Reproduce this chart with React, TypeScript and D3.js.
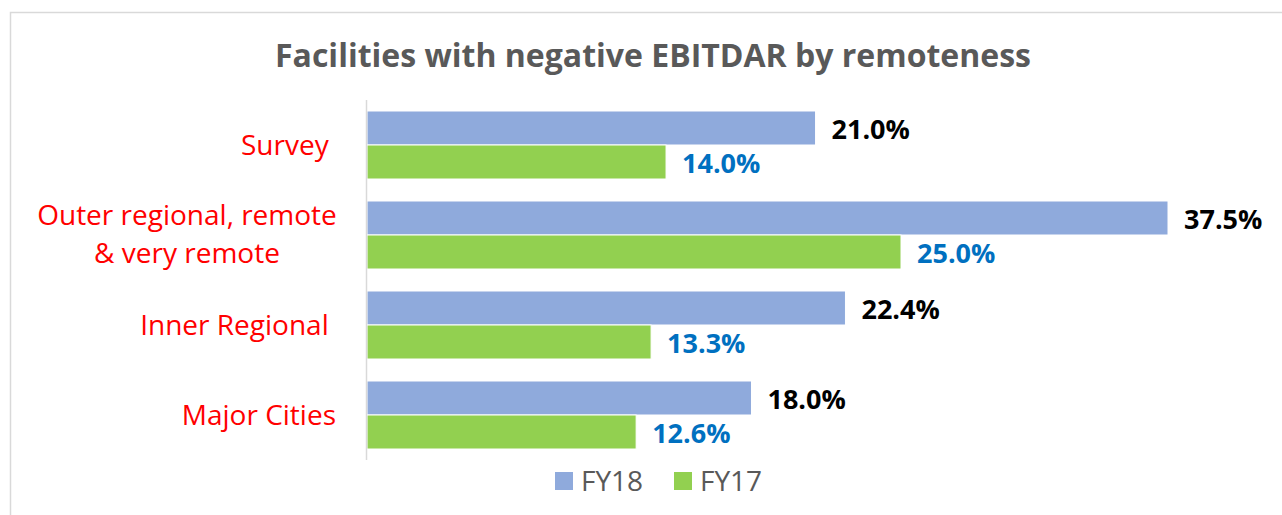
import React from "react";
import * as d3 from "d3";

const categories: string[][] = [
  ["Survey "],
  ["Outer regional, remote", "& very remote"],
  ["Inner Regional "],
  ["Major Cities"],
];
const seriesNames = ["FY18", "FY17"];
const fy18 = [21.0, 37.5, 22.4, 18.0];
const fy17 = [14.0, 25.0, 13.3, 12.6];
const colors = ["#8faadc", "#92d050"];
const labelColors = ["#000000", "#0070c0"];

const W = 1282;
const H = 515;
const FONT = "'Open Sans', Lato, sans-serif";

export default function App() {
  const x = d3.scaleLinear().domain([0, 37.5]).range([367, 1168]);
  const y0 = d3
    .scaleBand<number>()
    .domain(d3.range(categories.length))
    .range([100, 460])
    .paddingInner(0.2444)
    .paddingOuter(0.1222);
  const y1 = d3
    .scaleBand<number>()
    .domain([0, 1])
    .range([0, y0.bandwidth()]);
  const series = [fy18, fy17];

  return (
    <svg
      width={W}
      height={H}
      style={{ position: "absolute", left: 0, top: 0, background: "#fff" }}
      fontFamily={FONT}
    >
      <rect x={0} y={0} width={W} height={H} fill="#fff" />
      <path d={`M10.5,${H} V12.5 H${W}`} fill="none" stroke="#d9d9d9" strokeWidth={1.5} />
      <text
        x={653}
        y={67}
        textAnchor="middle"
        fontSize={32}
        fontWeight={700}
        fill="#595959"
      >
        Facilities with negative EBITDAR by remoteness
      </text>

      {categories.map((cat, i) => {
        const cy = (y0(i) as number) + y0.bandwidth() / 2;
        return (
          <g key={i}>
            {series.map((s, j) => {
              const by = (y0(i) as number) + (y1(j) as number);
              return (
                <g key={j}>
                  <rect
                    x={x(0)}
                    y={by}
                    width={x(s[i]) - x(0)}
                    height={y1.bandwidth()}
                    fill={colors[j]}
                    stroke="#ffffff"
                    strokeWidth={1}
                  />
                  <text
                    x={x(s[i]) + 16}
                    y={by + y1.bandwidth() / 2}
                    dy="0.4em"
                    fontSize={27}
                    fontWeight={700}
                    fill={labelColors[j]}
                  >
                    {s[i].toFixed(1) + "%"}
                  </text>
                </g>
              );
            })}
            {cat.length === 1 ? (
              <text
                x={336}
                y={cy}
                dy="0.36em"
                textAnchor="end"
                fontSize={28}
                fill="#ff0000"
                style={{ whiteSpace: "pre" }}
              >
                {cat[0]}
              </text>
            ) : (
              <text
                x={187}
                y={cy - 10}
                textAnchor="middle"
                fontSize={28}
                fill="#ff0000"
              >
                {cat.map((line, k) => (
                  <tspan key={k} x={187} dy={k === 0 ? 0 : 38}>
                    {line}
                  </tspan>
                ))}
              </text>
            )}
          </g>
        );
      })}

      <line x1={366.5} x2={366.5} y1={100} y2={460} stroke="#d9d9d9" strokeWidth={1.5} />

      {seriesNames.map((name, j) => {
        const lx = 555 + j * 119;
        return (
          <g key={name}>
            <rect x={lx} y={472} width={18} height={18} fill={colors[j]} />
            <text x={lx + 26} y={481} dy="0.36em" fontSize={28} fill="#595959">
              {name}
            </text>
          </g>
        );
      })}
    </svg>
  );
}
